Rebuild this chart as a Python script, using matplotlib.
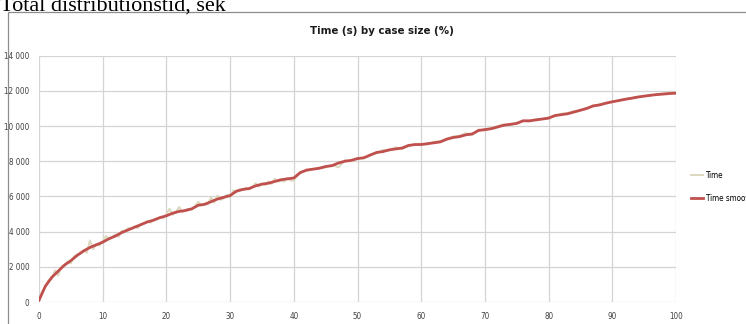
import numpy as np
import matplotlib
matplotlib.use("Agg")
import matplotlib.pyplot as plt
from matplotlib.patches import Rectangle
from matplotlib.ticker import FuncFormatter
from matplotlib import font_manager

# ---------------- data ----------------
smooth_x = list(range(0, 101))
smooth_y = [100, 900, 1400, 1750, 2100, 2350, 2650, 2900, 3100, 3250,
            3400, 3600, 3750, 3950, 4100, 4250, 4400, 4550, 4650, 4800,
            4900, 5050, 5150, 5200, 5300, 5500, 5550, 5700, 5850, 5950,
            6050, 6300, 6400, 6450, 6600, 6700, 6750, 6850, 6950, 7000,
            7050, 7350, 7500, 7550, 7600, 7700, 7750, 7900, 8000, 8050,
            8150, 8200, 8350, 8500, 8550, 8650, 8700, 8750, 8900, 8950,
            8950, 9000, 9050, 9100, 9250, 9350, 9400, 9500, 9550, 9750,
            9800, 9850, 9950, 10050, 10100, 10150, 10300, 10300, 10350, 10400,
            10450, 10600, 10650, 10700, 10800, 10900, 11000, 11150, 11200, 11300,
            11380, 11450, 11520, 11580, 11650, 11700, 11750, 11790, 11820, 11850,
            11870]

time_x = [i * 0.5 for i in range(0, 81)] + list(range(41, 101))
time_y = [50, 600, 850, 1250, 1300, 1800, 1500, 2000, 2050, 2300,
          2200, 2600, 2700, 2750, 2950, 2800, 3500, 3000, 3300, 3200,
          3450, 3750, 3550, 3700, 3850, 3700, 4050, 4000, 4200, 4150,
          4300, 4200, 4400, 4450, 4600, 4500, 4700, 4750, 4800, 4750,
          5000, 5300, 4950, 5150, 5400, 5100, 5250, 5300, 5250, 5450,
          5700, 5500, 5600, 5550, 5950, 5650, 6050, 5800, 5900, 6100,
          5950, 6350, 6250, 6400, 6350, 6500, 6400, 6550, 6750, 6550,
          6700, 6650, 6850, 6700, 7000, 6850, 6900, 6850, 7050, 6900,
          6900,
          7400, 7450, 7550, 7650, 7650, 7800, 7650, 8050, 8000, 8200,
          8150, 8400, 8450, 8650, 8600, 8800, 8700, 8850, 8950, 9000,
          8950, 9100, 9150, 9300, 9400, 9450, 9600, 9500, 9800, 9750,
          9900, 10000, 10100, 10050, 10200, 10300, 10250, 10400, 10400, 10500,
          10550, 10700, 10750, 10850, 10900, 11050, 11100, 11250, 11300, 11400,
          11450, 11550, 11600, 11650, 11700, 11750, 11800, 11850, 11900, 11900]

x_ticks = list(range(0, 101, 10))
y_ticks = list(range(0, 14001, 2000))
series_names = ["Time", "Time smoothed"]
title = "Time (s) by case size (%)"
header = "Total distributionstid, sek"

# ---------------- fonts ----------------
names = {f.name for f in font_manager.fontManager.ttflist}
if "Liberation Sans Narrow" in names:
    NARROW = dict(family="Liberation Sans Narrow")
else:
    NARROW = dict(family="DejaVu Sans", stretch="condensed")

# ---------------- figure ----------------
W, H = 746, 324
fig = plt.figure(figsize=(W / 100, H / 100), dpi=100)
fig.patch.set_facecolor("white")

# chart frame (cut off at right and bottom)
fig.add_artist(Rectangle((8 / W, -0.1), 1.2, 1 - 12.5 / H + 0.1,
                         transform=fig.transFigure, fill=False,
                         edgecolor="#8c8c8c", linewidth=0.9))

fig.text(0.0, 1 - 10.5 / H, header, family="Liberation Serif", fontsize=16,
         ha="left", va="baseline", color="black")
fig.text(382 / W, 1 - 31 / H, title, fontsize=8.2,
         fontweight="bold", ha="center", va="center", color="#1a1a1a", **NARROW)

ax = fig.add_axes([39 / W, 1 - 302 / H, (676 - 39) / W, (302 - 55.7) / H])
l1, = ax.plot(time_x, time_y, color="#dcd8bf", linewidth=1.4, zorder=3)
l2, = ax.plot(smooth_x, smooth_y, color="#c0504d", linewidth=2.0, zorder=4,
              solid_joinstyle="round")

ax.set_xlim(0, 100)
ax.set_ylim(0, 14000)
ax.set_xticks(x_ticks)
ax.set_yticks(y_ticks)
ax.yaxis.set_major_formatter(FuncFormatter(lambda v, p: f"{int(v):,}".replace(",", " ")))
for s in ax.spines.values():
    s.set_visible(False)
ax.grid(True, color="#d4d4d4", linewidth=0.9, zorder=0)
ax.set_axisbelow(True)
ax.tick_params(length=0, labelsize=5.8, labelcolor="#404040", pad=7)
for lab in ax.get_xticklabels() + ax.get_yticklabels():
    lab.set_family(NARROW["family"])
    if "stretch" in NARROW:
        lab.set_stretch(NARROW["stretch"])

prop = font_manager.FontProperties(size=5.8, **NARROW)
leg = fig.legend([l1, l2], series_names, loc="upper left",
                 bbox_to_anchor=(688 / W, 1 - 168 / H), frameon=False,
                 prop=prop, handlelength=1.5,
                 handletextpad=0.3, labelspacing=1.7, borderaxespad=0)

fig.savefig("out.png", dpi=100, facecolor="white")
